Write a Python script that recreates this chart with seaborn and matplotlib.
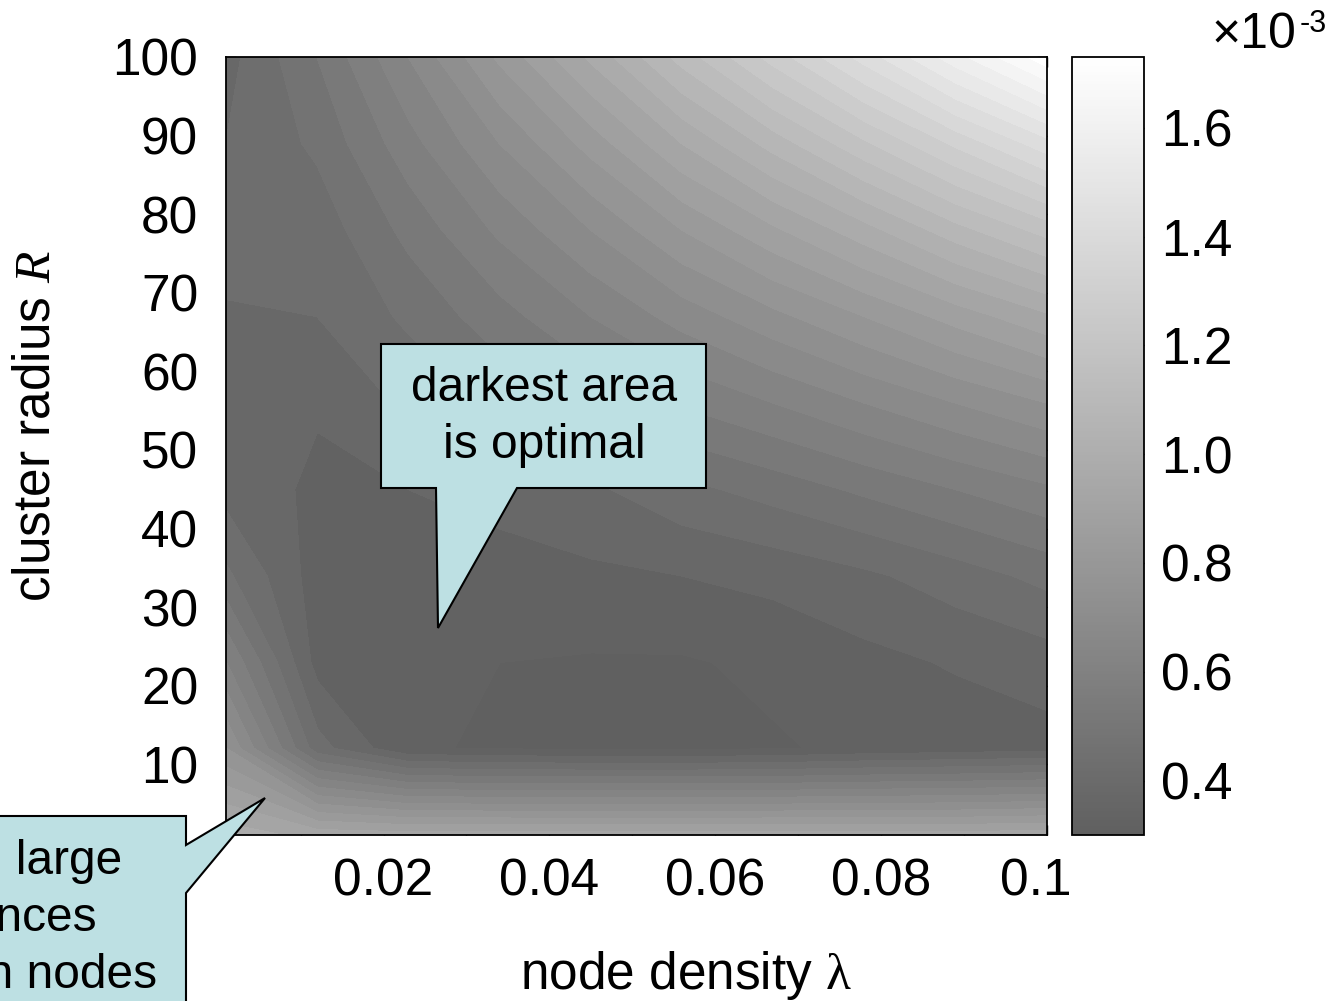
import numpy as np
import matplotlib
matplotlib.use('Agg')
import matplotlib.pyplot as plt
import matplotlib.colors as mcolors
import matplotlib.transforms as mtrans
from matplotlib.patches import Polygon
import seaborn as sns

# grid of the simulation (node density lambda, cluster radius R)
node_density = np.linspace(0.001, 0.1, 10)
cluster_radius = np.linspace(1, 100, 10)

# values in units of 1e-3, one row per cluster radius (bottom -> top)
row_R1 = [0.98, 0.93, 0.92, 0.92, 0.92, 0.92, 0.92, 0.92, 0.92, 0.93]
row_R12 = [0.75, 0.42, 0.305, 0.295, 0.29, 0.29, 0.295, 0.31, 0.32, 0.33]
row_R23 = [0.60, 0.33, 0.31, 0.30, 0.295, 0.295, 0.31, 0.335, 0.355, 0.375]
row_R34 = [0.46, 0.325, 0.325, 0.332, 0.34, 0.35, 0.365, 0.39, 0.425, 0.465]
row_R45 = [0.38, 0.34, 0.35, 0.365, 0.39, 0.435, 0.47, 0.51, 0.55, 0.59]
row_R56 = [0.37, 0.355, 0.41, 0.46, 0.51, 0.556, 0.60, 0.65, 0.70, 0.75]
row_R67 = [0.395, 0.40, 0.46, 0.53, 0.60, 0.67, 0.735, 0.80, 0.87, 0.94]
row_R78 = [0.42, 0.42, 0.515, 0.61, 0.70, 0.80, 0.89, 0.98, 1.08, 1.17]
row_R89 = [0.40, 0.46, 0.58, 0.70, 0.82, 0.95, 1.07, 1.19, 1.31, 1.43]
row_R100 = [0.38, 0.50, 0.65, 0.81, 0.96, 1.12, 1.27, 1.42, 1.58, 1.73]

Z = np.array([row_R1, row_R12, row_R23, row_R34, row_R45,
              row_R56, row_R67, row_R78, row_R89, row_R100])

xtick_vals = [0.02, 0.04, 0.06, 0.08, 0.1]
xtick_labels = ['0.02', '0.04', '0.06', '0.08', '0.1']
cbar_ticks = [0.4, 0.6, 0.8, 1.0, 1.2, 1.4, 1.6]

sns.set_theme(style='ticks')
plt.rcParams['font.family'] = ['Liberation Sans', 'DejaVu Sans']
plt.rcParams['mathtext.fontset'] = 'custom'
plt.rcParams['mathtext.rm'] = 'Liberation Serif'
plt.rcParams['mathtext.it'] = 'Liberation Serif:italic'
for k in ['text.color', 'axes.labelcolor', 'xtick.color', 'ytick.color', 'axes.edgecolor']:
    plt.rcParams[k] = 'black'

W, H = 1340, 1001
def fx(px):
    return px / W
def fy(py):
    return 1 - py / H

cmap = sns.blend_palette(['#606060', '#ffffff'], as_cmap=True)
norm = mcolors.Normalize(vmin=0.30, vmax=1.73)
levels = np.arange(0.30, 1.80, 0.05)

fig = plt.figure(figsize=(13.4, 10.01), dpi=100)
ax = fig.add_axes([fx(226), fy(835), fx(1047) - fx(226), fy(57) - fy(835)])
cs = ax.contourf(node_density, cluster_radius, Z, levels=levels, cmap=cmap,
                 norm=norm, extend='min')
cs.set_edgecolor('face')
cs.set_linewidth(0.6)
ax.set_xlim(0.001, 0.1)
ax.set_ylim(1, 100)
ax.set_xticks(xtick_vals)
ax.set_xticklabels(xtick_labels)
ax.set_xticks(np.arange(0.01, 0.1, 0.02), minor=True)
ax.set_yticks(np.arange(10, 101, 10))
ax.tick_params(which='both', direction='in', top=True, right=True,
               length=7, width=1.0)
ax.tick_params(axis='x', labelsize=37, pad=16)
ax.tick_params(axis='y', labelsize=37, pad=20)
for s in ax.spines.values():
    s.set_linewidth(1.3)
# last x label sits a little to the left, next to the colorbar
last = ax.get_xticklabels()[-1]
last.set_transform(last.get_transform() +
                   mtrans.ScaledTranslation(-0.11, 0, fig.dpi_scale_trans))

fig.text(fx(686), fy(975), r'node density $\mathrm{\lambda}$',
         ha='center', va='center', fontsize=37)
fig.text(fx(36), fy(426), r'cluster radius $R$', rotation=90,
         ha='center', va='center', fontsize=37)

# colorbar
cax = fig.add_axes([fx(1072), fy(835), fx(1144) - fx(1072), fy(57) - fy(835)])
sm = plt.cm.ScalarMappable(norm=norm, cmap=cmap)
cb = fig.colorbar(sm, cax=cax, ticks=cbar_ticks)
cb.ax.set_yticklabels(['%.1f' % t for t in cbar_ticks])
cax.tick_params(direction='in', left=True, right=True, length=7, width=1.0,
                labelsize=37, pad=12)
cb.outline.set_linewidth(1.3)
fig.text(fx(1212), fy(48), '\u00d710', ha='left', va='baseline', fontsize=36)
fig.text(fx(1300), fy(32), '-3', ha='left', va='baseline', fontsize=22)

# speech-bubble callouts
bubble = '#bde0e3'
pts1 = [(381, 344), (706, 344), (706, 488), (517, 488), (438, 628),
        (436, 488), (381, 488)]
fig.patches.append(Polygon([(fx(a), fy(b)) for a, b in pts1], closed=True,
                           facecolor=bubble, edgecolor='black', linewidth=1.5,
                           transform=fig.transFigure, figure=fig))
fig.text(fx(544), fy(417), 'darkest area\nis optimal', ha='center',
         va='center', fontsize=34.5, linespacing=1.37)

pts2 = [(-60, 816), (186, 816), (186, 845), (265, 798), (186, 893),
        (186, 1060), (-60, 1060)]
fig.patches.append(Polygon([(fx(a), fy(b)) for a, b in pts2], closed=True,
                           facecolor=bubble, edgecolor='black', linewidth=1.5,
                           transform=fig.transFigure, figure=fig))
# left part of this callout runs off the figure edge, as in the original
for txt, right, base in [('due to  large', 122, 874),
                         ('distances', 97, 931),
                         ('between nodes', 157, 988)]:
    fig.text(fx(right), fy(base), txt, ha='right', va='baseline',
             fontsize=34.5)

fig.savefig('out.png', dpi=100)
